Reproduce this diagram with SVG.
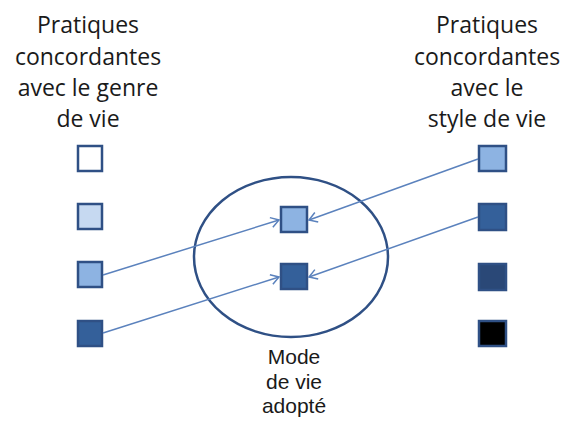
<svg xmlns="http://www.w3.org/2000/svg" width="565" height="424" viewBox="0 0 565 424">
<style>
text{font-family:"Open Sans","Liberation Sans",Arial,sans-serif;font-size:23px;fill:#1a1a1a;text-anchor:middle}
.m{font-family:"Liberation Sans",Arial,sans-serif;font-size:21px}
.sq{stroke:#2f5085;stroke-width:2.5}
.c{stroke:#5b82bd;stroke-width:1.5;fill:none}
</style>
<defs>
<marker id="ah" markerWidth="12" markerHeight="12" refX="10" refY="6" orient="auto" markerUnits="userSpaceOnUse">
<path d="M2,1 L10,6 L2,11" fill="none" stroke="#5b82bd" stroke-width="1.5"/>
</marker>
</defs>
<rect width="565" height="424" fill="#fff"/>
<g id="titleLeft">
<text x="88" y="33">Pratiques</text>
<text x="88" y="65">concordantes</text>
<text x="88" y="96">avec le  genre</text>
<text x="88" y="127">de vie</text>
</g>
<g id="titleRight">
<text x="487" y="33">Pratiques</text>
<text x="487" y="65">concordantes</text>
<text x="487" y="96">avec le</text>
<text x="487" y="127">style de vie</text>
</g>
<g id="mode">
<ellipse cx="291" cy="257" rx="97" ry="80" fill="none" stroke="#2f5085" stroke-width="2.5"/>
<text class="m" x="294" y="364">Mode</text>
<text class="m" x="294" y="389">de vie</text>
<text class="m" x="294" y="413">adopté</text>
</g>
<g id="left1"><rect class="sq" x="78" y="146" width="24" height="25" fill="#ffffff"/></g>
<g id="left2"><rect class="sq" x="78" y="204" width="24" height="25" fill="#c6d9f1"/></g>
<g id="left3"><rect class="sq" x="78" y="262" width="24" height="25" fill="#8db3e2"/></g>
<g id="left4"><rect class="sq" x="78" y="321" width="24" height="25" fill="#34609a"/></g>
<g id="center1"><rect class="sq" x="281" y="207" width="26" height="25" fill="#8db3e2"/></g>
<g id="center2"><rect class="sq" x="281" y="264" width="26" height="25" fill="#34609a"/></g>
<g id="right1"><rect class="sq" x="479" y="146" width="27" height="25" fill="#8db3e2"/></g>
<g id="right2"><rect class="sq" x="479" y="204" width="27" height="26" fill="#34609a"/></g>
<g id="right3"><rect class="sq" x="479" y="264" width="27" height="26" fill="#2a4877"/></g>
<g id="right4"><rect class="sq" x="479" y="321" width="27" height="25" fill="#000000"/></g>
<g id="connectors">
<line class="c" x1="103" y1="275" x2="279" y2="220" marker-end="url(#ah)"/>
<line class="c" x1="103" y1="333" x2="279" y2="277" marker-end="url(#ah)"/>
<line class="c" x1="478" y1="159" x2="309" y2="220" marker-end="url(#ah)"/>
<line class="c" x1="478" y1="217" x2="309" y2="277" marker-end="url(#ah)"/>
</g>
</svg>
